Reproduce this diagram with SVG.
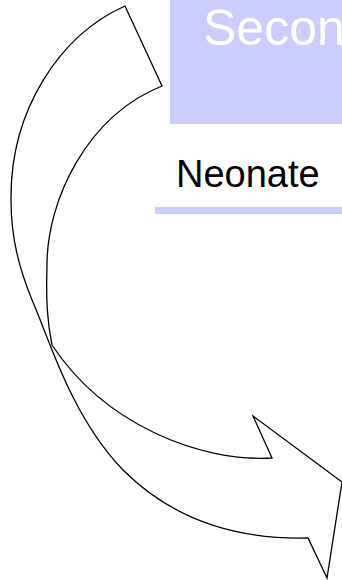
<svg xmlns="http://www.w3.org/2000/svg" width="342" height="580" viewBox="0 0 342 580">
  <style>
    .panel { fill: #ccccff; }
    .title { font-family: "Liberation Sans", Arial, sans-serif; font-size: 50px; fill: #ffffff; }
    .label { font-family: "Liberation Sans", Arial, sans-serif; font-size: 38px; fill: #000000; }
    .arrow { fill: #ffffff; stroke: #000000; stroke-width: 1.3; stroke-linejoin: miter; }
  </style>
  <rect width="342" height="580" fill="#ffffff"/>

  <!-- title panel -->
  <g id="title">
    <rect class="panel" x="170" y="0" width="172" height="124"/>
    <text class="title" x="203" y="45">Secon</text>
  </g>

  <!-- stage label with underline bar -->
  <g id="neonate">
    <text class="label" x="176" y="187">Neonate</text>
    <rect class="panel" x="155" y="207" width="187" height="7"/>
  </g>

  <!-- curved block arrow: outer edge down the left, head at lower right, inner edge back up -->
  <g id="connectors">
    <path class="arrow" d="M125,6 C60,35 10,110 11,200 C11,240 20,270 32,300 C48,335 70,415 123,470 C165,512 225,540 308,538 L327,578 L342,482 L253,416 L272,458 C200,462 105,425 52,345 C47,320 46,300 47,265 C47,200 87,116 162,86 Z"/>
  </g>
</svg>
